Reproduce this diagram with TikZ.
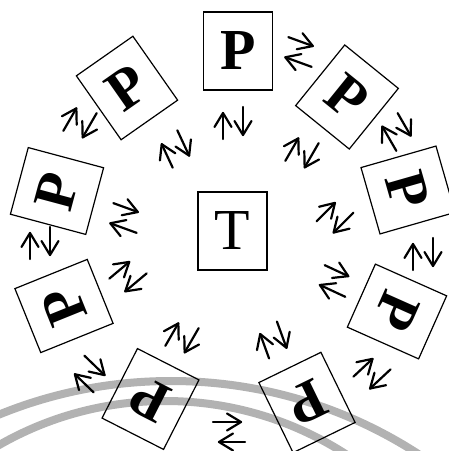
\documentclass[tikz,border=0pt]{standalone}
\usepackage{fontspec}
\setmainfont{Liberation Serif}
\begin{document}
\begin{tikzpicture}[x=1pt,y=1pt,
  box/.style={draw, line width=1.2pt, minimum width=69pt, minimum height=78pt, inner sep=0pt},
  pbox/.style={box, font=\fontsize{58}{58}\selectfont\bfseries},
  tbox/.style={box, font=\fontsize{58}{58}\selectfont},
  band/.style={draw=black!30, line width=8pt},
  arr/.style={line width=2.2pt, line cap=round, line join=round},
  eqpair/.pic={
    \draw[arr] (-10,-16) -- (-10,10);
    \draw[arr] (-18.5,-4) -- (-10,10) -- (-1.5,-4);
    \draw[arr] (10,16) -- (10,-12);
    \draw[arr] (1.5,2) -- (10,-12) -- (18.5,2);
  }]
\useasboundingbox (0,0) rectangle (449,451);
\begin{scope}
  \clip (0,0) rectangle (449,451);
  \draw[band] (171,-385) circle (455);
  \draw[band] (165,-284) circle (334);
\end{scope}
% centre
\node[tbox] (t) at (232.5,220) {T};
% ring of P boxes
\node[pbox, rotate=0]   (p1) at (238,400)   {P};
\node[pbox, rotate=35]  (p2) at (127,363)   {P};
\node[pbox, rotate=75]  (p3) at (57,260)    {P};
\node[pbox, rotate=112] (p4) at (64,145)    {P};
\node[pbox, rotate=153] (p5) at (150.5,52)  {P};
\node[pbox, rotate=206] (p6) at (307,48.5)  {P};
\node[pbox, rotate=246] (p7) at (397,139.5) {P};
\node[pbox, rotate=-74] (p8) at (408,261)   {P};
\node[pbox, rotate=-39] (p9) at (347,354)   {P};
% radial pairs (P <-> T)
\pic[rotate=0]    at (233,328) {eqpair};
\pic[rotate=25]   at (175,302) {eqpair};
\pic[rotate=-110] at (125,233) {eqpair};
\pic[rotate=-50]  at (128,175) {eqpair};
\pic[rotate=-30]  at (182,114) {eqpair};
\pic[rotate=20]   at (273,111) {eqpair};
\pic[rotate=-115] at (335,170) {eqpair};
\pic[rotate=-45]  at (335,234) {eqpair};
\pic[rotate=-30]  at (302,299) {eqpair};
% tangential pairs (P <-> P)
\pic[rotate=-110] at (300,399) {eqpair};
\pic[rotate=-150] at (397,319) {eqpair};
\pic[rotate=0]    at (423,197) {eqpair};
\pic[rotate=-47]  at (372,78)  {eqpair};
\pic[rotate=90]   at (229,19)  {eqpair};
\pic[rotate=46]   at (89,77)   {eqpair};
\pic[rotate=0]    at (40,208)  {eqpair};
\pic[rotate=-30]  at (80,329)  {eqpair};
\end{tikzpicture}
\end{document}
